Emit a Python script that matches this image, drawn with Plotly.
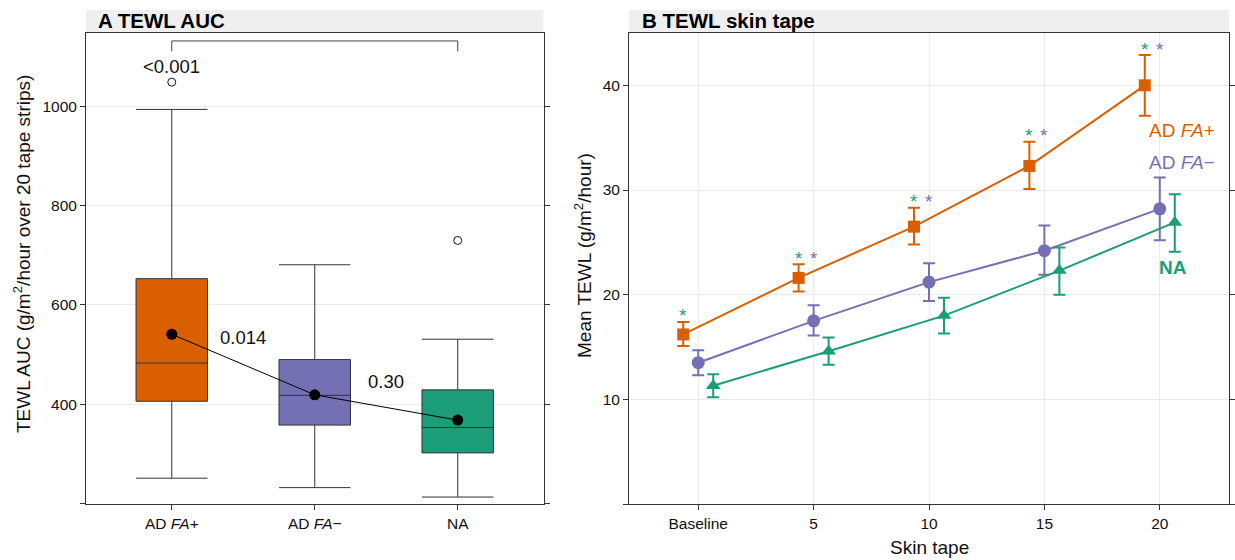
import plotly.graph_objects as go

# ---------------- data ----------------
groups = ["AD <i>FA+</i>", "AD <i>FA−</i>", "NA"]
colors = ["#d95f02", "#7570b3", "#1b9e77"]

box_q1 = [406, 358, 302]
box_median = [483, 418, 353]
box_q3 = [653, 490, 429]
box_lower = [251, 232, 213]
box_upper = [994, 681, 531]
box_mean = [541, 419, 368]
outlier_group = [0, 2]
outlier_value = [1049, 730]
p_values = ["<0.001", "0.014", "0.30"]

tape = [0, 5, 10, 15, 20]
tape_labels = ["Baseline", "5", "10", "15", "20"]
fa_pos_mean = [16.2, 21.6, 26.5, 32.3, 40.0]
fa_pos_up = [17.4, 22.9, 28.3, 34.6, 42.9]
fa_pos_lo = [15.1, 20.3, 24.8, 30.1, 37.1]
fa_neg_mean = [13.5, 17.5, 21.2, 24.2, 28.2]
fa_neg_up = [14.7, 19.0, 23.0, 26.6, 31.2]
fa_neg_lo = [12.3, 16.1, 19.4, 21.9, 25.2]
na_mean = [11.3, 14.6, 18.0, 22.3, 26.9]
na_up = [12.4, 15.9, 19.7, 24.5, 29.6]
na_lo = [10.2, 13.3, 16.3, 20.0, 24.1]
sig_vs_na = [True, True, True, True, True]
sig_vs_faneg = [False, True, True, True, True]
series_names = ["AD <i>FA+</i>", "AD <i>FA−</i>", "<b>NA</b>"]

# ---------------- figure ----------------
W, H = 1235, 560
FONT = "Liberation Sans, Arial, sans-serif"
AX = "#333333"
GRID = "#ebebeb"

def px(x):
    return x / W

def py(y):
    return 1 - y / H

fig = go.Figure()

# Panel A: boxes
for i in range(len(groups)):
    fig.add_trace(go.Box(
        x=[i], q1=[box_q1[i]], median=[box_median[i]], q3=[box_q3[i]],
        lowerfence=[box_lower[i]], upperfence=[box_upper[i]],
        width=0.5, whiskerwidth=1, fillcolor=colors[i],
        line=dict(color=AX, width=1), boxpoints=False,
        xaxis="x", yaxis="y", hoverinfo="skip"))

fig.add_trace(go.Scatter(
    x=outlier_group, y=outlier_value, mode="markers",
    marker=dict(symbol="circle-open", size=8, color="#111111", line=dict(width=1)),
    xaxis="x", yaxis="y"))

fig.add_trace(go.Scatter(
    x=list(range(len(groups))), y=box_mean, mode="lines+markers",
    line=dict(color="black", width=1),
    marker=dict(color="black", size=11),
    xaxis="x", yaxis="y"))

# bracket
fig.add_trace(go.Scatter(
    x=[0, 0, 2, 2], y=[1111, 1132, 1132, 1111], mode="lines",
    line=dict(color="#444444", width=1), xaxis="x", yaxis="y"))

annotations = []
pv_pos = [(0, 1081), (0.5, 534), (1.5, 446)]
for (xp, yp), txt in zip(pv_pos, p_values):
    annotations.append(dict(x=xp, y=yp, xref="x", yref="y", text=txt,
                            xanchor="center", yanchor="middle",
                            showarrow=False, font=dict(size=18.5, color="#111")))

# Panel B: lines
dodge = [-0.65, 0.0, 0.65]
means = [fa_pos_mean, fa_neg_mean, na_mean]
ups = [fa_pos_up, fa_neg_up, na_up]
los = [fa_pos_lo, fa_neg_lo, na_lo]
symbols = ["square", "circle", "triangle-up"]
sizes = [12, 13, 13]
for k in range(3):
    xs = [t + dodge[k] for t in tape]
    fig.add_trace(go.Scatter(
        x=xs, y=means[k], mode="lines+markers",
        line=dict(color=colors[k], width=2),
        marker=dict(symbol=symbols[k], size=sizes[k], color=colors[k]),
        error_y=dict(type="data", symmetric=False,
                     array=[u - m for u, m in zip(ups[k], means[k])],
                     arrayminus=[m - l for m, l in zip(means[k], los[k])],
                     color=colors[k], thickness=2, width=6),
        xaxis="x2", yaxis="y2"))

for j, t in enumerate(tape):
    ystar = fa_pos_up[j] + 0.95
    if sig_vs_na[j]:
        annotations.append(dict(x=t + dodge[0], y=ystar, xref="x2", yref="y2", text="*",
                                xanchor="center", yanchor="middle",
                                showarrow=False, yshift=-4,
                                font=dict(size=19, color=colors[2])))
    if sig_vs_faneg[j]:
        annotations.append(dict(x=t + dodge[1], y=ystar, xref="x2", yref="y2", text="*",
                                xanchor="center", yanchor="middle",
                                showarrow=False, yshift=-4,
                                font=dict(size=19, color=colors[1])))

label_pos = [(20.95, 35.7), (20.97, 32.6), (20.58, 22.6)]
for k in range(3):
    annotations.append(dict(x=label_pos[k][0], y=label_pos[k][1], xref="x2", yref="y2",
                            text=series_names[k], showarrow=False,
                            xanchor="center", yanchor="middle",
                            font=dict(size=19, color=colors[k])))

# strips and titles
shapes = []
for (x0, x1) in [(86, 543.5), (629, 1229)]:
    shapes.append(dict(type="rect", xref="paper", yref="paper",
                       x0=px(x0), x1=px(x1), y0=py(33), y1=py(10),
                       fillcolor="#efefef", line=dict(width=0), layer="below"))
annotations.append(dict(x=px(96), y=py(21), xref="paper", yref="paper", xanchor="left",
                        yanchor="middle", text="<b>A TEWL AUC</b>", showarrow=False,
                        font=dict(size=20.5, color="#000")))
annotations.append(dict(x=px(640), y=py(21), xref="paper", yref="paper", xanchor="left",
                        yanchor="middle", text="<b>B TEWL skin tape</b>", showarrow=False,
                        font=dict(size=20.5, color="#000")))

# axis titles
annotations.append(dict(x=px(22), y=py(254), xref="paper", yref="paper", textangle=-90,
                        xanchor="center", yanchor="middle",
                        text="TEWL AUC (g/m<sup>2</sup>/hour over 20 tape strips)",
                        showarrow=False, font=dict(size=19, color="#111")))
annotations.append(dict(x=px(583), y=py(256), xref="paper", yref="paper", textangle=-90,
                        xanchor="center", yanchor="middle",
                        text="Mean TEWL (g/m<sup>2</sup>/hour)",
                        showarrow=False, font=dict(size=19, color="#111")))
annotations.append(dict(x=px(929), y=py(547), xref="paper", yref="paper",
                        xanchor="center", yanchor="middle",
                        text="Skin tape", showarrow=False, font=dict(size=19, color="#111")))

common_axis = dict(showline=True, linecolor=AX, linewidth=1, ticks="outside", ticklen=5,
                   tickcolor=AX, tickwidth=1, zeroline=False,
                   tickfont=dict(size=15.5, color="#111"))

ydom = [py(504), py(33)]
fig.update_layout(
    width=W, height=H, margin=dict(l=0, r=0, t=0, b=0),
    paper_bgcolor="white", plot_bgcolor="white", showlegend=False,
    font=dict(family=FONT),
    xaxis=dict(domain=[px(86), px(543.5)], range=[-0.6, 2.6], tickvals=[0, 1, 2],
               ticktext=groups, showgrid=False, mirror=True, anchor="y", **common_axis),
    yaxis=dict(domain=ydom, range=[199, 1148], tickvals=[200, 400, 600, 800, 1000],
               ticktext=["", "400", "600", "800", "1000"], showgrid=True, gridcolor=GRID,
               mirror="ticks", anchor="x", **common_axis),
    xaxis2=dict(domain=[px(629), px(1229)], range=[-3, 23], tickvals=tape,
                ticktext=tape_labels, showgrid=True, gridcolor=GRID, mirror=True,
                anchor="y2", **common_axis),
    yaxis2=dict(domain=ydom, range=[0, 45], tickvals=[0, 10, 20, 30, 40],
                ticktext=["", "10", "20", "30", "40"], showgrid=True, gridcolor=GRID,
                mirror="ticks", anchor="x2", **common_axis),
    annotations=annotations, shapes=shapes,
)

fig.write_html("out.html")
